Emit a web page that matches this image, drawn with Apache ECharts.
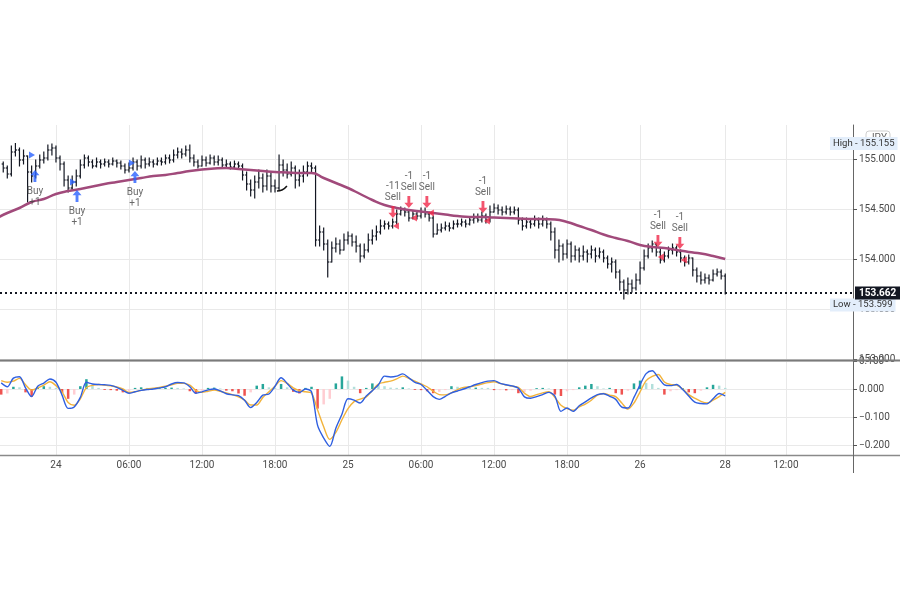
<!DOCTYPE html>
<html>
<head>
<meta charset="utf-8">
<title>JPY 20m chart</title>
<script src="https://cdn.jsdelivr.net/npm/echarts@6/dist/echarts.min.js"></script>
<style>
  html, body { margin: 0; padding: 0; background: #fff; }
  #chart { width: 900px; height: 600px; }
</style>
</head>
<body>
<div id="chart"></div>
<script>
// ---- data (hours are counted from the "24" day break) ----
const xTickHours = [0, 6, 12, 18, 24, 30, 36, 42, 48, 55, 60]
const xTickLabels = ['24', '06:00', '12:00', '18:00', '25', '06:00', '12:00', '18:00', '26', '28', '12:00']
const priceTicks = [153, 153.5, 154, 154.5, 155]
const macdTicks = [-0.2, -0.1, 0, 0.1]

// 20 minute bars
const barStartHour = -13 / 3
const barStepHours = 1 / 3
const firstOpen = 154.95
const closes = [
  154.91, 154.85, 155.07, 155.09, 154.99, 155.03, 154.87, 154.83, 154.93, 154.99,
  155.01, 155.09, 155.11, 155.01, 154.95, 154.79, 154.71, 154.77, 154.83, 154.94,
  155.01, 154.97, 154.93, 154.97, 154.95, 154.97, 154.95, 154.98, 154.96, 154.93,
  154.89, 154.91, 154.97, 154.93, 154.99, 154.95, 154.97, 154.95, 154.98, 154.97,
  155.01, 154.99, 155.04, 155.07, 155.05, 155.09, 155.01, 154.97, 154.93, 154.99,
  154.96, 155.01, 154.97, 154.99, 154.94, 154.95, 154.92, 154.95, 154.93, 154.84,
  154.75, 154.69, 154.77, 154.81, 154.73, 154.83, 154.73, 154.71, 154.94, 154.89,
  154.85, 154.91, 154.79, 154.83, 154.87, 154.93, 154.91, 154.19, 154.27, 154.15,
  153.97, 154.11, 154.15, 154.09, 154.19, 154.23, 154.17, 154.13, 154.03, 154.09,
  154.19, 154.23, 154.27, 154.33, 154.35, 154.33, 154.37, 154.45, 154.49, 154.47,
  154.41, 154.45, 154.43, 154.47, 154.45, 154.41, 154.25, 154.29, 154.31, 154.33,
  154.31, 154.35, 154.35, 154.37, 154.35, 154.39, 154.41, 154.39, 154.43, 154.39,
  154.47, 154.51, 154.49, 154.47, 154.50, 154.47, 154.49, 154.39, 154.33, 154.37,
  154.35, 154.39, 154.35, 154.39, 154.35, 154.27, 154.09, 154.13, 154.05, 154.15,
  154.03, 154.09, 154.03, 154.07, 154.05, 154.09, 154.03, 154.07, 154.01, 153.95,
  153.97, 153.87, 153.77, 153.69, 153.75, 153.71, 153.79, 153.91, 154.03, 154.11,
  154.15, 154.07, 153.99, 154.03, 154.09, 154.11, 154.07, 154.01, 153.97, 154.01,
  153.89, 153.83, 153.79, 153.81, 153.79, 153.85, 153.87, 153.83, 153.662
]
const highs = [
  154.97, 154.93, 155.13, 155.155, 155.11, 155.09, 155.01, 154.93, 154.99, 155.04,
  155.07, 155.14, 155.15, 155.13, 155.03, 154.97, 154.83, 154.83, 154.89, 154.99,
  155.04, 155.03, 154.99, 155.01, 154.99, 155.00, 154.99, 155.01, 154.99, 154.98,
  154.95, 154.96, 155.01, 154.99, 155.03, 155.01, 155.01, 154.99, 155.01, 155.01,
  155.04, 155.04, 155.09, 155.11, 155.10, 155.13, 155.14, 155.04, 154.99, 155.03,
  155.02, 155.04, 155.03, 155.03, 155.01, 154.99, 154.97, 154.98, 154.97, 154.95,
  154.87, 154.79, 154.83, 154.89, 154.85, 154.89, 154.87, 154.79, 155.04, 154.99,
  154.95, 154.97, 154.93, 154.89, 154.93, 154.97, 154.96, 154.93, 154.33, 154.31,
  154.19, 154.17, 154.21, 154.19, 154.25, 154.27, 154.25, 154.23, 154.15, 154.15,
  154.25, 154.29, 154.33, 154.39, 154.38, 154.37, 154.40, 154.49, 154.52, 154.51,
  154.49, 154.48, 154.47, 154.51, 154.51, 154.47, 154.43, 154.35, 154.35, 154.37,
  154.36, 154.38, 154.39, 154.40, 154.39, 154.42, 154.45, 154.45, 154.47, 154.45,
  154.53, 154.55, 154.54, 154.52, 154.53, 154.52, 154.52, 154.51, 154.41, 154.41,
  154.40, 154.43, 154.41, 154.43, 154.41, 154.37, 154.31, 154.19, 154.15, 154.19,
  154.17, 154.13, 154.11, 154.13, 154.09, 154.13, 154.11, 154.11, 154.09, 154.03,
  154.01, 153.99, 153.89, 153.79, 153.81, 153.79, 153.85, 153.97, 154.09, 154.15,
  154.18, 154.15, 154.11, 154.07, 154.12, 154.15, 154.13, 154.09, 154.03, 154.04,
  154.01, 153.91, 153.87, 153.85, 153.84, 153.89, 153.90, 153.89, 153.85
]
const lows = [
  154.87, 154.81, 154.83, 155.03, 154.93, 154.95, 154.57, 154.77, 154.81, 154.91,
  154.96, 154.99, 155.04, 154.97, 154.89, 154.73, 154.67, 154.69, 154.73, 154.81,
  154.91, 154.93, 154.91, 154.92, 154.91, 154.93, 154.92, 154.94, 154.92, 154.90,
  154.86, 154.87, 154.89, 154.89, 154.91, 154.91, 154.93, 154.92, 154.94, 154.94,
  154.95, 154.96, 154.97, 155.01, 155.01, 155.03, 154.97, 154.93, 154.91, 154.93,
  154.93, 154.95, 154.94, 154.94, 154.91, 154.91, 154.90, 154.91, 154.91, 154.79,
  154.69, 154.63, 154.61, 154.71, 154.67, 154.69, 154.67, 154.67, 154.69, 154.83,
  154.81, 154.83, 154.71, 154.73, 154.77, 154.83, 154.87, 154.13, 154.13, 154.09,
  153.82, 154.03, 154.07, 154.05, 154.11, 154.15, 154.13, 154.07, 153.97, 154.01,
  154.07, 154.15, 154.19, 154.25, 154.30, 154.30, 154.31, 154.35, 154.44, 154.43,
  154.38, 154.40, 154.40, 154.41, 154.42, 154.38, 154.22, 154.25, 154.27, 154.29,
  154.28, 154.30, 154.32, 154.33, 154.32, 154.34, 154.36, 154.37, 154.37, 154.36,
  154.37, 154.47, 154.45, 154.44, 154.45, 154.44, 154.45, 154.35, 154.29, 154.31,
  154.31, 154.33, 154.31, 154.33, 154.31, 154.19, 154.01, 153.97, 153.99, 154.01,
  153.97, 153.99, 153.97, 153.99, 153.97, 154.01, 153.97, 154.01, 153.97, 153.91,
  153.87, 153.81, 153.69, 153.599, 153.65, 153.67, 153.69, 153.75, 153.89, 154.01,
  154.07, 154.03, 153.96, 153.97, 154.01, 154.05, 154.03, 153.97, 153.93, 153.95,
  153.83, 153.77, 153.75, 153.76, 153.75, 153.78, 153.83, 153.80, 153.65
]

// moving average, one value per hour
const maStartHour = -5
const maValues = [
  154.40, 154.46, 154.51, 154.57, 154.60, 154.65, 154.68, 154.70, 154.725, 154.75,
  154.77, 154.79, 154.81, 154.83, 154.84, 154.86, 154.88, 154.895, 154.905, 154.91,
  154.90, 154.89, 154.88, 154.87, 154.865, 154.86, 154.86, 154.81, 154.76, 154.71,
  154.65, 154.59, 154.54, 154.51, 154.49, 154.475, 154.46, 154.445, 154.43, 154.42,
  154.42, 154.415, 154.41, 154.405, 154.40, 154.40, 154.395, 154.37, 154.33, 154.29,
  154.245, 154.21, 154.18, 154.14, 154.12, 154.11, 154.09, 154.07, 154.055, 154.03,
  154.00
]

// MACD pane, one value per half hour
const macdStartHour = -4.5
const macdStepHours = 0.5
const macdLine = [
  0.022, 0.008, 0.039, 0.044, 0.004, -0.027, 0.010, 0.021, 0.036, 0.024,
  -0.022, -0.069, -0.064, -0.030, 0.024, 0.018, 0.016, 0.015, 0.013, 0.006,
  -0.005, -0.015, -0.010, -0.005, -0.002, 0.000, 0.004, 0.008, 0.018, 0.023,
  0.022, 0.008, -0.015, -0.010, -0.003, 0.000, -0.007, -0.017, -0.021, -0.024,
  -0.040, -0.066, -0.048, -0.022, -0.018, 0.010, 0.040, 0.020, -0.004, -0.012,
  0.000, -0.010, -0.130, -0.175, -0.205, -0.140, -0.090, -0.035, -0.040, -0.050,
  -0.025, -0.006, 0.015, 0.046, 0.043, 0.046, 0.054, 0.040, 0.024, 0.016,
  -0.005, -0.027, -0.037, -0.026, -0.014, -0.007, 0.000, 0.008, 0.016, 0.023,
  0.028, 0.030, 0.020, 0.015, 0.011, 0.003, -0.028, -0.033, -0.027, -0.020,
  -0.012, -0.025, -0.080, -0.068, -0.080, -0.060, -0.046, -0.032, -0.020, -0.017,
  -0.026, -0.037, -0.065, -0.068, -0.030, 0.015, 0.055, 0.065, 0.040, 0.015,
  0.012, 0.016, -0.002, -0.025, -0.047, -0.052, -0.053, -0.035, -0.016, -0.025
]
const signalLine = [
  0.030, 0.024, 0.028, 0.038, 0.015, -0.004, 0.004, 0.014, 0.026, 0.012,
  -0.010, -0.048, -0.058, -0.035, 0.005, 0.013, 0.016, 0.014, 0.011, 0.007,
  0.000, -0.012, -0.010, -0.005, 0.000, 0.003, 0.006, 0.010, 0.015, 0.020,
  0.020, 0.014, -0.005, -0.012, -0.008, -0.004, -0.008, -0.014, -0.020, -0.028,
  -0.040, -0.057, -0.057, -0.030, -0.010, 0.010, 0.030, 0.020, 0.004, -0.006,
  -0.010, -0.015, -0.075, -0.135, -0.180, -0.155, -0.110, -0.070, -0.045, -0.036,
  -0.028, -0.005, 0.018, 0.024, 0.028, 0.036, 0.046, 0.038, 0.028, 0.018,
  0.008, -0.008, -0.020, -0.021, -0.014, -0.002, 0.006, 0.008, 0.012, 0.018,
  0.023, 0.026, 0.020, 0.014, 0.010, 0.006, -0.015, -0.027, -0.020, -0.014,
  -0.010, -0.030, -0.058, -0.070, -0.076, -0.064, -0.054, -0.040, -0.022, -0.016,
  -0.022, -0.027, -0.050, -0.072, -0.050, -0.010, 0.030, 0.045, 0.052, 0.025,
  0.016, 0.014, 0.000, -0.020, -0.033, -0.044, -0.050, -0.040, -0.027, -0.012
]
const histogram = [
  -0.020, -0.016, 0.008, 0.006, -0.012, -0.028, 0.006, 0.010, 0.008, 0.004,
  -0.014, -0.035, -0.020, 0.010, 0.035, 0.015, 0.004, -0.003, -0.004, -0.006,
  -0.012, -0.008, 0.004, 0.006, 0.004, 0.002, 0.003, 0.004, 0.005, 0.004,
  0.002, -0.008, -0.016, -0.006, 0.004, 0.005, 0.002, -0.006, -0.008, -0.016,
  -0.024, -0.012, 0.012, 0.018, 0.006, 0.004, 0.018, 0.006, -0.010, -0.016,
  0.004, 0.008, -0.070, -0.055, -0.035, 0.020, 0.045, 0.030, 0.008, -0.015,
  0.004, 0.020, 0.014, 0.010, 0.005, 0.004, 0.006, 0.002, -0.003, -0.004,
  -0.008, -0.015, -0.010, -0.004, 0.010, 0.008, 0.004, 0.004, 0.005, 0.004,
  0.004, -0.004, -0.004, -0.005, -0.004, -0.015, -0.012, -0.006, 0.003, 0.004,
  0.002, -0.020, -0.025, -0.008, -0.004, 0.006, 0.012, 0.018, 0.010, 0.002,
  0.004, -0.015, -0.020, -0.006, 0.020, 0.030, 0.022, 0.018, 0.004, -0.020,
  -0.008, -0.004, 0.003, -0.012, -0.015, -0.006, 0.006, 0.015, 0.012, 0.004
]

// trades
const buyHours = [-1.73, 1.73, 6.49]
const buyPrices = [154.83, 154.63, 154.82]
const buyQty = ['+1', '+1', '+1']
const buyFillHours = [-1.97, 1.40, 6.24]
const buyFillPrices = [155.04, 154.77, 154.96]
const sellHours = [27.69, 29.0, 30.48, 35.09, 49.47, 51.27]
const sellPrices = [154.47, 154.57, 154.57, 154.52, 154.18, 154.16]
const sellQty = ['-11', '-1', '-1', '-1', '-1', '-1']
const sellFillHours = [27.94, 29.42, 30.81, 35.41, 49.71, 51.60]
const sellFillPrices = [154.33, 154.41, 154.46, 154.38, 154.02, 153.99]

// small hand drawn stroke
const sketchHours = [18.16, 18.57, 18.98]
const sketchPrices = [154.68, 154.69, 154.73]

const priceHigh = 155.155
const priceLow = 153.599
const lastClose = closes[closes.length - 1]

// ---- build series data ----
const ohlcData = closes.map((c, k) => [
  barStartHour + k * barStepHours,
  k === 0 ? firstOpen : closes[k - 1],
  c, lows[k], highs[k]
])
const maData = maValues.map((v, i) => [maStartHour + i, v])
const macdHour = i => macdStartHour + i * macdStepHours
const histData = histogram.map((v, i) => {
  const prev = i === 0 ? 0 : histogram[i - 1]
  let color
  if (v >= 0) color = v > prev ? '#26a69a' : '#b2dfdb'
  else color = v < prev ? '#ef5350' : '#ffcdd2'
  return { value: [macdHour(i), v], itemStyle: { color: color }}
})

const FONT = 'Roboto, "Liberation Sans", sans-serif'
const AXIS_TEXT = '#4a4a4a'
const xMin = -4.6
const xMax = 65.5
const gridLine = { show: true, lineStyle: { color: '#e9e9e9', width: 1 }}
const ARROW_UP = 'path://M5,0 L10,6 L6.6,6 L6.6,14 L3.4,14 L3.4,6 L0,6 Z'
const ARROW_DOWN = 'path://M3.4,0 L6.6,0 L6.6,8 L10,8 L5,14 L0,8 L3.4,8 Z'

function renderOhlc(params, api) {
  const t = api.value(0)
  const o = api.value(1)
  const c = api.value(2)
  const top = api.coord([t, Math.max(api.value(4), o, c)])
  const bottom = api.coord([t, Math.min(api.value(3), o, c)])
  const po = api.coord([t, o])
  const pc = api.coord([t, c])
  const style = { stroke: '#131722', lineWidth: 1.2 }
  return {
    type: 'group',
    children: [
      { type: 'line', shape: { x1: top[0], y1: top[1] - 0.5, x2: bottom[0], y2: bottom[1] + 0.5 }, style: style },
      { type: 'line', shape: { x1: po[0] - 1.6, y1: po[1], x2: po[0], y2: po[1] }, style: style },
      { type: 'line', shape: { x1: pc[0], y1: pc[1], x2: pc[0] + 1.6, y2: pc[1] }, style: style }
    ]
  }
}

const chart = echarts.init(document.getElementById('chart'), null, { renderer: 'canvas' })

const priceScaleLine = { show: true, onZero: false, lineStyle: { color: '#666', width: 1 }}

const option = {
  animation: false,
  backgroundColor: '#ffffff',
  textStyle: { fontFamily: FONT },
  grid: [
    { left: 0, right: 47, top: 125, height: 235, outerBoundsMode: 'none' },
    { left: 0, right: 47, top: 360, height: 95, outerBoundsMode: 'none' }
  ],
  xAxis: [
    {
      type: 'value', gridIndex: 0, min: xMin, max: xMax,
      axisLine: { show: false },
      axisTick: { show: false, customValues: xTickHours },
      axisLabel: { show: false },
      splitLine: gridLine
    },
    {
      type: 'value', gridIndex: 1, min: xMin, max: xMax,
      axisLine: { show: false },
      axisTick: { show: false, customValues: xTickHours },
      axisLabel: {
        show: true, customValues: xTickHours, color: AXIS_TEXT, fontSize: 10, margin: 5,
        formatter: v => xTickLabels[xTickHours.indexOf(v)]
      },
      splitLine: gridLine
    }
  ],
  yAxis: [
    {
      type: 'value', gridIndex: 0, position: 'right', min: 152.99, max: 155.34,
      axisLine: priceScaleLine,
      axisTick: { show: true, inside: false, customValues: priceTicks, length: 4, lineStyle: { color: '#555' }},
      axisLabel: {
        customValues: priceTicks, color: AXIS_TEXT, fontSize: 10, margin: 6,
        formatter: v => v.toFixed(3)
      },
      splitLine: gridLine
    },
    {
      type: 'value', gridIndex: 1, position: 'right', min: -0.2357, max: 0.1036,
      axisLine: priceScaleLine,
      axisTick: { show: true, inside: false, customValues: macdTicks, length: 4, lineStyle: { color: '#555' }},
      axisLabel: {
        customValues: macdTicks, color: AXIS_TEXT, fontSize: 10, margin: 6,
        formatter: v => (v < 0 ? '\u2212' : '') + Math.abs(v).toFixed(3)
      },
      splitLine: gridLine
    }
  ],
  series: [
    {
      name: 'price',
      type: 'custom',
      xAxisIndex: 0, yAxisIndex: 0,
      renderItem: renderOhlc,
      encode: { x: 0, y: [1, 2, 3, 4] },
      data: ohlcData,
      z: 3,
      markLine: {
        silent: true,
        symbol: ['none', 'none'],
        data: [{ yAxis: lastClose }],
        lineStyle: { type: [2, 3], color: '#131722', width: 2 },
        label: {
          show: true, position: 'end', distance: 2,
          formatter: lastClose.toFixed(3),
          color: '#ffffff', backgroundColor: '#131722',
          padding: [2, 4, 1, 4], fontSize: 10, fontWeight: 'bold'
        },
        z: 20
      }
    },
    {
      name: 'MA',
      type: 'line',
      xAxisIndex: 0, yAxisIndex: 0,
      data: maData,
      smooth: true,
      symbol: 'none',
      lineStyle: { color: '#a14a7b', width: 2.5 },
      z: 4
    },
    {
      name: 'sketch',
      type: 'line',
      xAxisIndex: 0, yAxisIndex: 0,
      data: sketchHours.map((h, i) => [h, sketchPrices[i]]),
      smooth: true,
      symbol: 'none',
      lineStyle: { color: '#111', width: 1.5 },
      z: 4
    },
    {
      name: 'buy',
      type: 'scatter',
      xAxisIndex: 0, yAxisIndex: 0,
      data: buyHours.map((h, i) => [h, buyPrices[i]]),
      symbol: ARROW_UP,
      symbolSize: [9, 12],
      itemStyle: { color: '#2962ff' },
      label: {
        show: true, position: 'bottom', distance: 4,
        formatter: p => 'Buy\n' + buyQty[p.dataIndex],
        color: '#444', fontSize: 10, lineHeight: 11
      },
      z: 5
    },
    {
      name: 'buyFill',
      type: 'scatter',
      xAxisIndex: 0, yAxisIndex: 0,
      data: buyFillHours.map((h, i) => [h, buyFillPrices[i]]),
      symbol: 'triangle',
      symbolSize: [7, 6],
      symbolRotate: -90,
      itemStyle: { color: '#2962ff' },
      z: 5
    },
    {
      name: 'sell',
      type: 'scatter',
      xAxisIndex: 0, yAxisIndex: 0,
      data: sellHours.map((h, i) => [h, sellPrices[i]]),
      symbol: ARROW_DOWN,
      symbolSize: [9, 12],
      itemStyle: { color: '#f0294a' },
      label: {
        show: true, position: 'top', distance: 3,
        formatter: p => sellQty[p.dataIndex] + '\nSell',
        color: '#444', fontSize: 10, lineHeight: 11
      },
      z: 5
    },
    {
      name: 'sellFill',
      type: 'scatter',
      xAxisIndex: 0, yAxisIndex: 0,
      data: sellFillHours.map((h, i) => [h, sellFillPrices[i]]),
      symbol: 'triangle',
      symbolSize: [7, 6],
      symbolRotate: 90,
      itemStyle: { color: '#f0294a' },
      z: 5
    },
    {
      name: 'histogram',
      type: 'bar',
      xAxisIndex: 1, yAxisIndex: 1,
      data: histData,
      barWidth: 2.5,
      z: 2
    },
    {
      name: 'signal',
      type: 'line',
      xAxisIndex: 1, yAxisIndex: 1,
      data: signalLine.map((v, i) => [macdHour(i), v]),
      smooth: 0.3,
      symbol: 'none',
      lineStyle: { color: '#f2b33b', width: 1.4 },
      z: 3
    },
    {
      name: 'macd',
      type: 'line',
      xAxisIndex: 1, yAxisIndex: 1,
      data: macdLine.map((v, i) => [macdHour(i), v]),
      smooth: 0.3,
      symbol: 'none',
      lineStyle: { color: '#2f5fe0', width: 1.4 },
      z: 4
    }
  ],
  graphic: [
    { type: 'line', shape: { x1: 0, y1: 360.5, x2: 900, y2: 360.5 }, style: { stroke: '#7a7a7a', lineWidth: 2 }, z: 10 },
    { type: 'line', shape: { x1: 0, y1: 455.5, x2: 900, y2: 455.5 }, style: { stroke: '#8a8a8a', lineWidth: 1.5 }, z: 10 },
    { type: 'line', shape: { x1: 853.5, y1: 455, x2: 853.5, y2: 473 }, style: { stroke: '#666', lineWidth: 1 }, z: 10 },
    {
      type: 'rect', shape: { x: 866, y: 131, width: 24, height: 14, r: 3 },
      style: { fill: '#fff', stroke: '#cfcfcf', lineWidth: 1 }, z: 10
    },
    {
      type: 'text', x: 878, y: 138,
      style: { text: 'JPY', fill: '#666', fontSize: 10, fontFamily: FONT, align: 'center', verticalAlign: 'middle' }, z: 11
    }
  ]
}

chart.setOption(option)

// High / Low tags sit on the price scale
const hiY = chart.convertToPixel({ yAxisIndex: 0 }, priceHigh)
const loY = chart.convertToPixel({ yAxisIndex: 0 }, priceLow)
function extremeTag(id, name, value, y) {
  return {
    id: id, type: 'text', x: 830, y: y, z: 12,
    style: {
      text: name + ' - ' + value.toFixed(3),
      fill: '#333', fontSize: 9.5, fontFamily: FONT,
      verticalAlign: 'middle',
      backgroundColor: '#e3eefb', padding: [2, 3, 1, 3]
    }
  }
}
chart.setOption({
  graphic: option.graphic.concat([
    extremeTag('hiTag', 'High', priceHigh, hiY),
    extremeTag('loTag', 'Low', priceLow, loY + 6)
  ])
})
</script>
</body>
</html>
